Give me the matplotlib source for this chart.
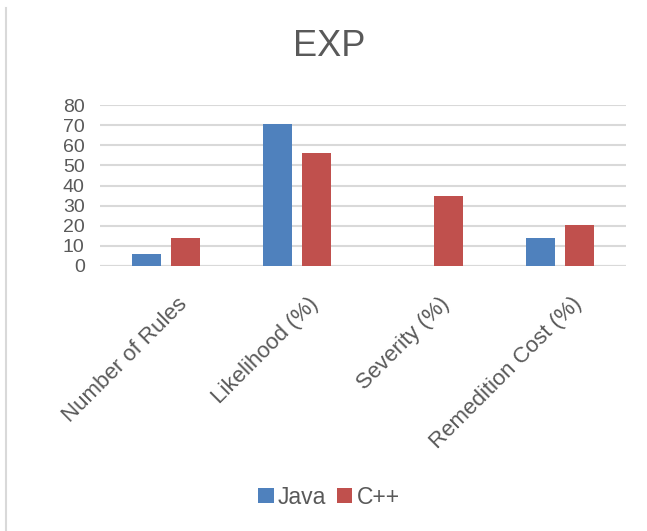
import matplotlib
matplotlib.use("Agg")
import matplotlib.pyplot as plt
import matplotlib.transforms as mtransforms
from matplotlib.lines import Line2D
import numpy as np

plt.rcParams['font.family'] = ['Liberation Sans', 'DejaVu Sans']

categories = ["Number of Rules", "Likelihood (%)", "Severity (%)", "Remedition Cost (%)"]
java = [6, 70.5, 0, 14]
cpp = [14, 56, 35, 20.5]
series_names = ["Java", "C++"]
yticks = [0, 10, 20, 30, 40, 50, 60, 70, 80]

BLUE = "#4F81BD"
RED = "#C0504D"
TEXT = "#595959"
GRID = "#D9D9D9"

W, H = 647, 531
fig = plt.figure(figsize=(W / 100, H / 100), dpi=100)
ax = fig.add_axes([100 / W, (H - 266) / H, (626 - 100) / W, (266 - 105) / H])

x = np.arange(len(categories))
bw = 0.22
off = 0.147
ax.bar(x - off, java, bw, color=BLUE, label=series_names[0], zorder=3)
ax.bar(x + off, cpp, bw, color=RED, label=series_names[1], zorder=3)

ax.set_xlim(-0.5, len(categories) - 0.5)
ax.set_ylim(0, 80)
ax.set_yticks(yticks)
ax.yaxis.grid(True, color=GRID, linewidth=1.5, zorder=0)
ax.set_axisbelow(True)
for s in ax.spines.values():
    s.set_visible(False)
ax.axhline(0, color=GRID, linewidth=1.5, zorder=2)

ax.tick_params(axis='y', length=0, pad=11, labelsize=14, labelcolor=TEXT)
ax.tick_params(axis='x', length=0, pad=0)
ax.set_xticks(x)
ax.set_xticklabels(categories, rotation=45, ha='right', va='center',
                   rotation_mode='anchor', fontsize=16, color=TEXT)
shift = mtransforms.ScaledTranslation(18 / 100, -35 / 100, fig.dpi_scale_trans)
for lab in ax.get_xticklabels():
    lab.set_transform(lab.get_transform() + shift)

fig.text(329 / W, 1 - 46 / H, "EXP", ha='center', va='center',
         fontsize=26, color=TEXT)

leg = fig.legend(loc='center', bbox_to_anchor=(329 / W, 1 - 497 / H), ncol=2,
                 frameon=False, fontsize=16.5, handlelength=0.68, handleheight=0.68,
                 handletextpad=0.2, columnspacing=0.45, labelcolor=TEXT)

fig.add_artist(Line2D([6 / W, 6 / W], [0, 1 - 8 / H], transform=fig.transFigure,
                      color=GRID, linewidth=1.5))

fig.savefig("out.png", dpi=100)
